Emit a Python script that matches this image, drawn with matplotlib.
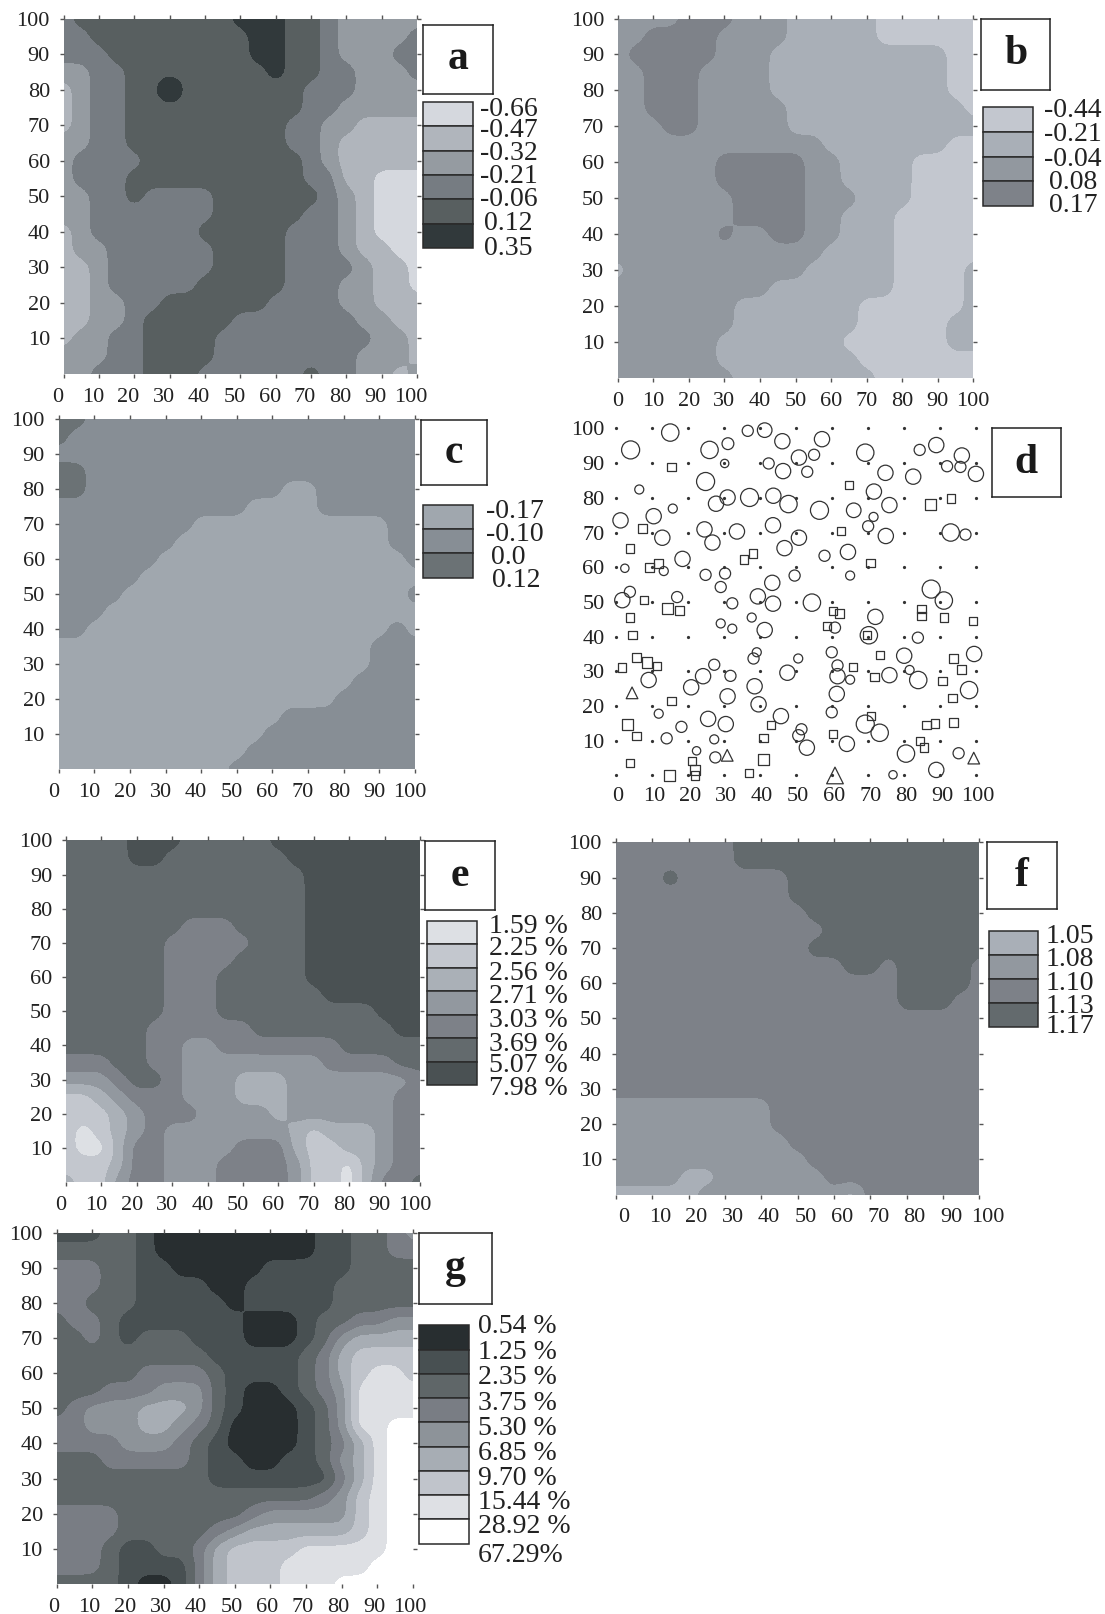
import numpy as np
import matplotlib
matplotlib.use("Agg")
import matplotlib.pyplot as plt
from matplotlib.transforms import ScaledTranslation

plt.rcParams['font.family'] = ['Liberation Serif', 'DejaVu Serif']

FW, FH = 1105, 1614
K = 1105 / 1073.0  # layout numbers below are measured on a reduced view

# ---- class rasters, rows from y=100 down to y=0, columns x=0..100 every 5 units
field_a = """344444444455544322222
334444444445544322223
333444444445544322233
223344444444544332223
123344644444443332222
123344444444443322222
123344444444433221111
223344444444433211111
233334444444443211111
233344444444443311000
223343333444444321000
223333333444443321000
123333334444433321000
122333333444433321100
112333333444433332110
112333334444433322110
112233444444333322111
112234444433333332211
122334444333333333221
222334444333333332221
223334443333334332212""".split()

field_b = """222233322211111000000
223333222211111000000
233333222111111111100
223332222111111111100
223332222111111111100
223332222211111111110
222332222211111111111
222222222222111111100
222222333332211110000
222222333332211110000
222222233332221110000
222222233332211100000
222222322332211100000
222222222222111100000
122222222221111100001
222222222111111100001
222222211111110000001
222222211111110000011
222222111111100000011
222222111111110000000
222222211111111000000""".split()

field_c = """221111111111111111111
211111111111111111111
111111111111111111111
221111111111111111111
221111111111100111111
111111111110000111111
111111110000000000011
111111100000000000011
111111000000000000001
111110000000000000000
111100000000000000001
111000000000000000000
110000000000000000010
000000000000000000111
000000000000000000111
000000000000000001111
000000000000000011111
000000000000011111111
000000000000111111111
000000000001111111111
000000000011111111111""".split()

field_e = """555566655555666666666
555566555555566666666
555555555555556666666
555555555555556666666
555555555555556666666
555555544455556666666
555555444445556666666
555555444455556666666
555555444555556666666
555555444555555666666
555555444555555555666
555554444445555555566
555554433444444455555
444554433333333444455
333455433322233333334
112344433322233333344
111234443333233333344
101234333333321222344
100244333344421122344
111244333444431102344
211344333444431102445""".split()

field_f = """222222233333333333333
222222233333333333333
222322222233333333333
222222222233333333333
222222222223333333333
222222222222333333333
222222222223333333333
222222222222233233332
222222222222222233332
222222222222222233322
222222222222222222222
222222222222222222222
222222222222222222222
222222222222222222222
222222222222222222222
111111111222222222222
111111111222222222222
111111111122222222222
111111111112222222222
111100111111222222222
000001111111102222222""".split()

field_g = """777667888888888776654
666667888888888776655
555667788888777776666
555667777887777766666
556667777787777766666
655677777778887665544
665676667778887643333
666666666777776532222
666665555677776532112
666555444678876541111
654443334678887641111
554443345688887641100
555544456788887653100
666555556778877643100
666666666777777753100
666666666666666542100
555566666665444442100
555566666543333332100
555677665322221111100
555677775322211111000
666678875322211100000""".split()

# ---- colours, lightest class first
colors_a = ['#d5d8de', '#b0b5bc', '#959ba1', '#767c82', '#585f60', '#31393b']
colors_b = ['#c3c7cf', '#a9afb7', '#92989f', '#7e8289']
colors_c = ['#a0a7ae', '#878e95', '#6b7275']
colors_e = ['#dde0e4', '#c3c7ce', '#aab0b7', '#92989f', '#7d8188', '#636a6d', '#4a5153']
colors_f = ['#a9afb7', '#92989f', '#7d8188', '#636a6d']
colors_g = ['#ffffff', '#dee0e4', '#c0c4cb', '#a7adb4', '#8d9399', '#797d84', '#5f6668', '#485052', '#282e30']

# ---- legend labels
labels_a = ['-0.66', '-0.47', '-0.32', '-0.21', '-0.06', '0.12', '0.35']
labels_b = ['-0.44', '-0.21', '-0.04', '0.08', '0.17']
labels_c = ['-0.17', '-0.10', '0.0', '0.12']
labels_e = ['1.59 %', '2.25 %', '2.56 %', '2.71 %', '3.03 %', '3.69 %', '5.07 %', '7.98 %']
labels_f = ['1.05', '1.08', '1.10', '1.13', '1.17']
labels_g = ['0.54 %', '1.25 %', '2.35 %', '3.75 %', '5.30 %', '6.85 %', '9.70 %', '15.44 %', '28.92 %', '67.29%']

# ---- panel d stems: x, y, drawn size
circle_x = [15.1,4.1,26,31.1,36.6,41.3,46.2,57.2,50.8,55,69.2,30.2,42.4,46.4,53.1,74.8,82.5,84.3,88.9,96,91.9,95.6,99.9,24.9,6.5,31,27.8,37.1,43.7,47.9,56.5,66,71.6,75.9,15.8,10.5,1.3,71.5,70,24.6,33.6,43.6,12.9,26.8,50.8,74.9,92.9,97,46.8,64.4,57.9,18.5,2.5,13.3,24.9,30.3,49.6,65,43.4,29.1,3.9,17,1.8,39.4,43.6,32.3,54.4,87.5,91,72,37.7,29.1,32.3,41.3,60.8,70.2,83.8,39.1,38.2,59.9,50.6,80,99.4,27.3,61.5,81.5,47.6,24.2,31.8,61.5,75.9,65,9.1,83.9,20.9,38.5,31,61.3,98,39.6,11.9,59.9,25.6,45.8,30.5,18.2,69.2,51.5,73.2,50.7,14.1,27.3,64.1,53,22.4,27.6,80.5,95.1,88.9,76.9]
circle_y = [98.8,93.8,93.8,95.6,99.3,99.5,96.3,96.9,91.6,92.4,93,89.9,89.9,87.7,87.5,87.2,86.1,93.8,95.2,92.2,89.1,88.9,86.9,84.7,82.4,80.1,78.3,80.1,80.6,78.2,76.4,76.4,81.8,77.9,76.9,74.7,73.5,74.5,71.8,70.9,70.3,72.1,68.5,67.1,68.5,69,70,69.4,65.5,64.4,63.3,62.4,59.7,58.9,57.8,58.2,57.6,57.6,55.5,54.3,52.9,51.4,50.5,51.6,49.5,49.6,49.8,53.7,50.4,45.7,45.5,43.8,42.3,41.9,42.6,40.4,39.7,35.5,33.7,35.5,33.7,34.5,35,31.9,31.7,30.4,29.6,28.6,28.7,28.6,28.9,27.6,27.5,27.5,25.4,25.7,22.8,23.5,24.6,20.5,17.8,18.2,16.3,17.1,14.8,14,14.8,13.3,12.3,11.5,10.7,10.4,9.1,8,7.1,5.2,6.3,6.4,1.6,0.2]
circle_r = [25,26,25,17,16,21,22,22,22,16,25,12,16,22,16,22,22,16,22,22,16,16,22,26,13,22,22,26,22,25,26,21,22,22,13,22,22,13,16,22,22,22,22,22,22,22,25,16,22,22,16,22,12,13,16,16,16,13,22,16,16,16,22,22,22,16,25,26,25,22,13,13,13,22,16,25,16,13,16,16,13,22,22,16,16,13,22,22,16,22,22,13,22,25,22,22,22,22,25,22,13,16,22,22,22,16,26,16,25,17,16,13,22,22,12,16,25,16,22,12]
square_x = [15.4,64.6,93,87.3,7.5,62.5,3.9,38.1,35.6,70.7,11.8,9.3,7.9,14.4,17.6,84.8,84.8,60.3,62.1,3.9,91,99.1,58.5,4.6,69.7,73.2,5.7,8.7,11.5,1.8,93.7,65.8,95.9,71.8,90.6,93.4,15.4,70.8,3.3,43.1,86.2,88.6,93.7,5.7,60.3,41,84.4,85.5,41,3.9,21.1,21.9,21.9,15,37]
square_y = [88.8,83.7,79.8,78,71.1,70.4,65.4,64,62.2,61.3,61,60,50.5,48.1,47.4,48,45.9,47.4,46.6,45.5,45.5,44.5,43,40.5,40.4,34.8,34,32.6,31.5,31.1,33.7,31.2,30.5,28.3,27.2,22.3,21.4,17.2,14.6,14.6,14.6,15,15.3,11.4,12,10.7,9.9,8.1,4.6,3.5,4.2,1.6,0,0,0.7]
square_r = [12,12,12,16,13,12,12,12,12,12,13,13,12,16,13,12,12,12,13,12,12,12,12,12,12,12,12,15,12,12,12,12,12,12,12,12,12,12,16,12,12,12,12,12,12,12,12,12,16,12,12,14,12,16,12]
tri_x = [4.5, 30.9, 60.8, 99.3]
tri_y = [23.8, 5.8, 0, 5]
tri_r = [14, 14, 20, 14]

TICKS = list(range(0, 101, 10))
XTICKLABELS = [str(t) for t in TICKS]


def rect(x0, y0, x1, y1):
    return [x0 * K / FW, 1 - y1 * K / FH, (x1 - x0) * K / FW, (y1 - y0) * K / FH]


def smooth(rows, sigma):
    grid = np.array([[int(c) for c in r] for r in rows], float)[::-1]
    coarse = np.arange(21) * 5.0
    fine_c = np.arange(0, 100.5, 1.0)
    fine = np.array([np.interp(fine_c, coarse, row) for row in grid])
    fine = np.array([np.interp(fine_c, coarse, col) for col in fine.T]).T
    hw = int(3 * sigma) + 1
    t = np.arange(-hw, hw + 1)
    w = np.exp(-t ** 2 / (2 * sigma ** 2))
    w /= w.sum()
    pad = np.pad(fine, hw, mode='edge')
    pad = np.apply_along_axis(lambda v: np.convolve(v, w, mode='same'), 0, pad)
    pad = np.apply_along_axis(lambda v: np.convolve(v, w, mode='same'), 1, pad)
    return fine_c, pad[hw:-hw, hw:-hw]


def style_axes(ax, dx, marks=True):
    ax.set_xlim(0, 100)
    ax.set_ylim(0, 100)
    ax.set_xticks(TICKS)
    ax.set_xticklabels(XTICKLABELS)
    ax.set_yticks(TICKS[1:])
    ax.set_yticklabels(XTICKLABELS[1:])
    for s in ax.spines.values():
        s.set_visible(False)
    ax.tick_params(axis='both', labelsize=16, length=3 if marks else 0, width=1,
                   color='#555555', labelcolor='#222222', top=marks, right=marks,
                   pad=7 if marks else 8)
    off = ScaledTranslation(dx, 0, ax.figure.dpi_scale_trans)
    for lab in ax.get_xticklabels():
        lab.set_transform(lab.get_transform() + off)


def contour_panel(rect_px, rows, colors, dx, sigma):
    ax = fig.add_axes(rect(*rect_px))
    c, z = smooth(rows, sigma)
    z = np.clip(z, 0, len(colors) - 1)
    ax.contourf(c, c, z, levels=np.arange(len(colors) + 1) - 0.5, colors=colors)
    style_axes(ax, dx)
    return ax


def letter_box(rect_px, letter):
    ax = fig.add_axes(rect(*rect_px))
    ax.set_xticks([])
    ax.set_yticks([])
    for s in ax.spines.values():
        s.set_linewidth(1.1)
        s.set_color('#222222')
    ax.text(0.5, 0.5, letter, transform=ax.transAxes, ha='center', va='center',
            fontsize=30, fontweight='bold', color='#1a1a1a')


def legend(rect_px, colors):
    ax = fig.add_axes(rect(*rect_px))
    n = len(colors)
    ax.bar(np.zeros(n), np.ones(n), width=1, bottom=np.arange(n), color=colors,
           edgecolor='#2a2a2a', linewidth=1.1)
    ax.set_xlim(-0.5, 0.5)
    ax.set_ylim(n, 0)
    ax.axis('off')
    for a in ax.patches:
        a.set_clip_on(False)


def legend_text(labels, xs, ys, ha):
    for s, x, y in zip(labels, xs, ys):
        fig.text(x * K / FW, 1 - y * K / FH, s, fontsize=20, ha=ha, va='center', color='#222222')


fig = plt.figure(figsize=(FW / 100, FH / 100), dpi=100, facecolor='white')

# a
contour_panel((62, 18, 405, 363), field_a, colors_a, -0.06, 1.5)
letter_box((411, 24, 479, 91), 'a')
legend((411, 99, 459, 241), colors_a)
legend_text(labels_a, [494] * 7, [106, 127, 149, 171, 194, 217, 241], 'center')

# b
contour_panel((600, 18, 945, 367), field_b, colors_b, 0.0, 1.5)
letter_box((953, 18, 1020, 87), 'b')
legend((955, 104, 1003, 200), colors_b)
legend_text(labels_b, [1042] * 5, [107, 131, 155, 177, 200], 'center')

# c
contour_panel((57, 407, 403, 747), field_c, colors_c, -0.05, 1.2)
letter_box((409, 408, 473, 471), 'c')
legend((411, 490, 459, 561), colors_c)
legend_text(labels_c, [500, 500, 494, 501], [497, 519, 541, 564], 'center')

# d
ax = fig.add_axes(rect(598, 416, 948, 753))
gx, gy = np.meshgrid(TICKS, TICKS)
ax.plot(gx.ravel(), gy.ravel(), ls='none', marker='o', ms=1.3, color='#333333', clip_on=False, zorder=1)
ax.scatter(circle_x, circle_y, s=(0.5 * np.array(circle_r)) ** 2, marker='o', facecolors='none',
           edgecolors='#333333', linewidths=0.9, clip_on=False, zorder=2)
ax.scatter(square_x, square_y, s=(0.5 * np.array(square_r)) ** 2, marker='s', facecolors='none',
           edgecolors='#333333', linewidths=0.9, clip_on=False, zorder=2)
ax.scatter(tri_x, tri_y, s=(0.6 * np.array(tri_r)) ** 2, marker='^', facecolors='none',
           edgecolors='#333333', linewidths=0.9, clip_on=False, zorder=2)
style_axes(ax, 0.02, marks=False)
letter_box((963, 416, 1030, 483), 'd')

# e
contour_panel((64, 816, 408, 1148), field_e, colors_e, -0.05, 1.5)
letter_box((413, 817, 481, 884), 'e')
legend((415, 894, 463, 1054), colors_e)
legend_text(labels_e, [475] * 8, [900, 921, 945, 968, 991, 1014, 1035, 1057], 'left')

# f
contour_panel((598, 818, 951, 1160), field_f, colors_f, 0.08, 1.2)
letter_box((958, 818, 1026, 883), 'f')
legend((960, 904, 1008, 997), colors_f)
legend_text(labels_f, [1015] * 5, [909, 932, 955, 977, 997], 'left')

# g
contour_panel((55, 1197, 401, 1538), field_g, colors_g, -0.03, 1.5)
letter_box((407, 1197, 478, 1266), 'g')
legend((407, 1287, 455, 1499), colors_g[::-1])
legend_text(labels_g, [464] * 10, [1288, 1313, 1338, 1363, 1387, 1411, 1436, 1459, 1482, 1510], 'left')

fig.savefig('out.png', dpi=100)
